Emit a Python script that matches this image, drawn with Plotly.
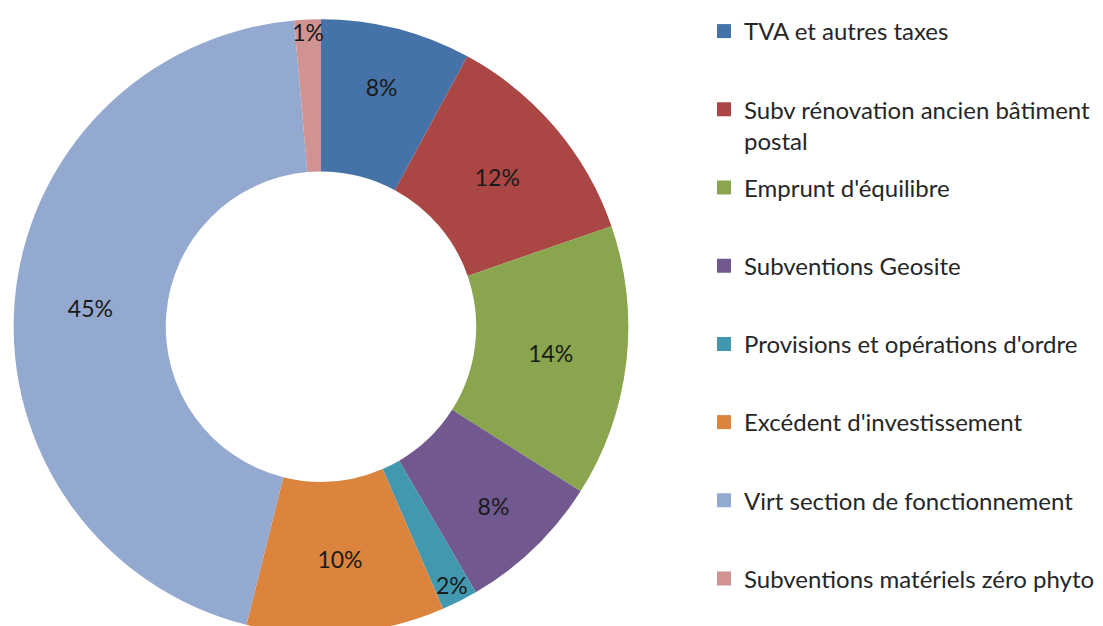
import plotly.graph_objects as go

# ---- data ----
categories = [
    "TVA et autres taxes",
    "Subv rénovation ancien bâtiment postal",
    "Emprunt d'équilibre",
    "Subventions Geosite",
    "Provisions et opérations d'ordre",
    "Excédent d'investissement",
    "Virt section de fonctionnement",
    "Subventions matériels zéro phyto",
]
legend_labels = [
    "TVA et autres taxes",
    "Subv rénovation ancien bâtiment<br>postal",
    "Emprunt d'équilibre",
    "Subventions Geosite",
    "Provisions et opérations d'ordre",
    "Excédent d'investissement",
    "Virt section de fonctionnement",
    "Subventions matériels zéro phyto",
]
shares = [7.9, 11.8, 14.3, 7.6, 1.9, 10.4, 44.7, 1.4]
colors = ["#4572A7", "#AA4643", "#89A54E", "#71588F",
          "#4198AF", "#DB843D", "#93A9CF", "#D19392"]

W, H = 1103, 626
FONT = "Lato"

fig = go.Figure()
fig.add_trace(go.Pie(
    labels=categories,
    values=shares,
    hole=0.505,
    sort=False,
    direction="clockwise",
    rotation=0,
    marker=dict(colors=colors, line=dict(width=0)),
    textinfo="percent",
    texttemplate="%{percent:.0%}",
    textposition="inside",
    insidetextorientation="horizontal",
    textfont=dict(family=FONT, size=23, color="#1a1a1a"),
    domain=dict(x=[4 / W, 622 / W], y=[0, 0.982]),
    showlegend=False,
))

# legend entries: one legend per entry so spacing matches the reference
first_center = 32
step = 78.2
layout_legends = {}
for i, (name, col) in enumerate(zip(legend_labels, colors)):
    key = "legend" if i == 0 else f"legend{i + 1}"
    fig.add_trace(go.Scatter(
        x=[None], y=[None], mode="markers", name=name,
        marker=dict(symbol="square", size=14, color=col),
        legend=key, showlegend=True, hoverinfo="skip",
    ))
    cy = first_center + i * step
    layout_legends[key] = dict(
        x=696 / W, xanchor="left",
        y=1 - (cy - 31) / H, yanchor="top",
        font=dict(family=FONT, size=24, color="#262626"),
        bgcolor="rgba(0,0,0,0)", borderwidth=0,
        valign="top", itemwidth=30,
    )

fig.update_layout(
    width=W, height=H,
    margin=dict(l=0, r=0, t=0, b=0),
    paper_bgcolor="white", plot_bgcolor="white",
    xaxis=dict(visible=False), yaxis=dict(visible=False),
    uniformtext=dict(minsize=23, mode="show"),
    **layout_legends,
)

fig.write_html("out.html")
